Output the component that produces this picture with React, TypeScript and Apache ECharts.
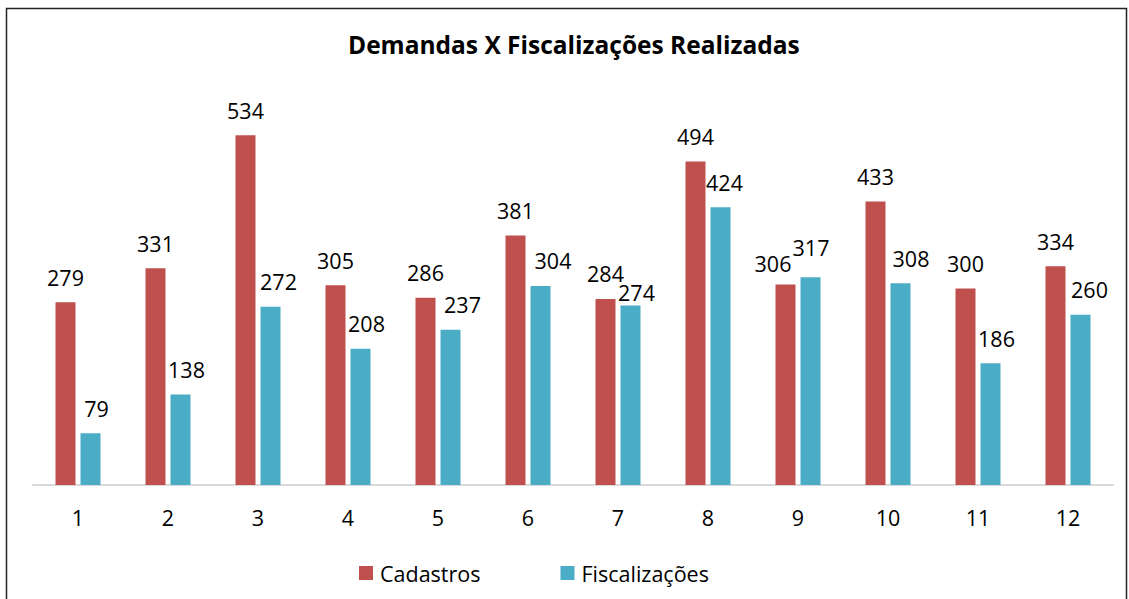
import React, { useEffect, useRef } from "react";
import * as echarts from "echarts";

const categories = ["1", "2", "3", "4", "5", "6", "7", "8", "9", "10", "11", "12"];
const cadastros = [279, 331, 534, 305, 286, 381, 284, 494, 306, 433, 300, 334];
const fiscalizacoes = [79, 138, 272, 208, 237, 304, 274, 424, 317, 308, 186, 260];

// label nudges (px) to mimic the reference's label placement
const cadastrosLabelShift: [number, number][] = [
  [0, 0], [0, 0], [0, 0], [0, 0], [0, 0], [0, 0],
  [0, 0], [0, 0], [-12.5, 4], [0, 0], [0, 0], [0, 0],
];
const fiscalizacoesLabelShift: [number, number][] = [
  [6, 0], [6, 0], [8, 0], [6, 0], [12, 0], [12.5, 0],
  [6, 11.5], [4, 0], [0.5, -4.5], [10.5, 0], [6, 0], [9, 0],
];

const FONT = "'Open Sans', 'Noto Sans', sans-serif";

export default function App() {
  const ref = useRef<HTMLDivElement>(null);
  useEffect(() => {
    if (!ref.current) return;
    const chart = echarts.init(ref.current, undefined, { renderer: "svg" });
    const labelStyle = {
      show: true,
      position: "top" as const,
      distance: 14,
      fontSize: 21.5,
      color: "#000",
      fontFamily: FONT,
    };
    const mk = (vals: number[], shifts: [number, number][]) =>
      vals.map((v, i) => ({ value: v, label: { offset: shifts[i] } }));
    chart.setOption({
      animation: false,
      backgroundColor: "#fff",
      title: {
        text: "Demandas X Fiscalizações Realizadas",
        left: 343,
        top: 27,
        textStyle: { fontSize: 24.5, fontWeight: "bold", color: "#000", fontFamily: FONT },
      },
      legend: {
        top: 557,
        left: 354,
        itemWidth: 14,
        itemHeight: 14,
        itemGap: 80,
        icon: "rect",
        textStyle: { fontSize: 21.5, color: "#000", fontFamily: FONT, padding: [0, 0, 0, 2] },
      },
      grid: { left: 33, right: 16, top: 92, bottom: 114 },
      xAxis: {
        type: "category",
        data: categories,
        axisLine: { lineStyle: { color: "#d9d9d9", width: 2 } },
        axisTick: { show: false },
        axisLabel: { fontSize: 21.5, color: "#000", margin: 21, fontFamily: FONT },
      },
      yAxis: {
        type: "value",
        min: 0,
        max: 600,
        show: false,
        splitLine: { show: false },
      },
      graphic: [
        {
          type: "rect",
          shape: { x: 6.5, y: 8.5, width: 1120, height: 610 },
          style: { fill: "none", stroke: "#222", lineWidth: 1.5 },
          silent: true,
        },
      ],
      series: [
        {
          name: "Cadastros",
          type: "bar",
          data: mk(cadastros, cadastrosLabelShift),
          barWidth: 20,
          barGap: "25%",
          itemStyle: { color: "#C0504D" },
          label: labelStyle,
        },
        {
          name: "Fiscalizações",
          type: "bar",
          data: mk(fiscalizacoes, fiscalizacoesLabelShift),
          barWidth: 20,
          itemStyle: { color: "#4BACC6" },
          label: labelStyle,
        },
      ],
    });
    return () => chart.dispose();
  }, []);
  return (
    <div
      ref={ref}
      style={{ position: "fixed", left: 0, top: 0, width: 1129, height: 599 }}
    />
  );
}
